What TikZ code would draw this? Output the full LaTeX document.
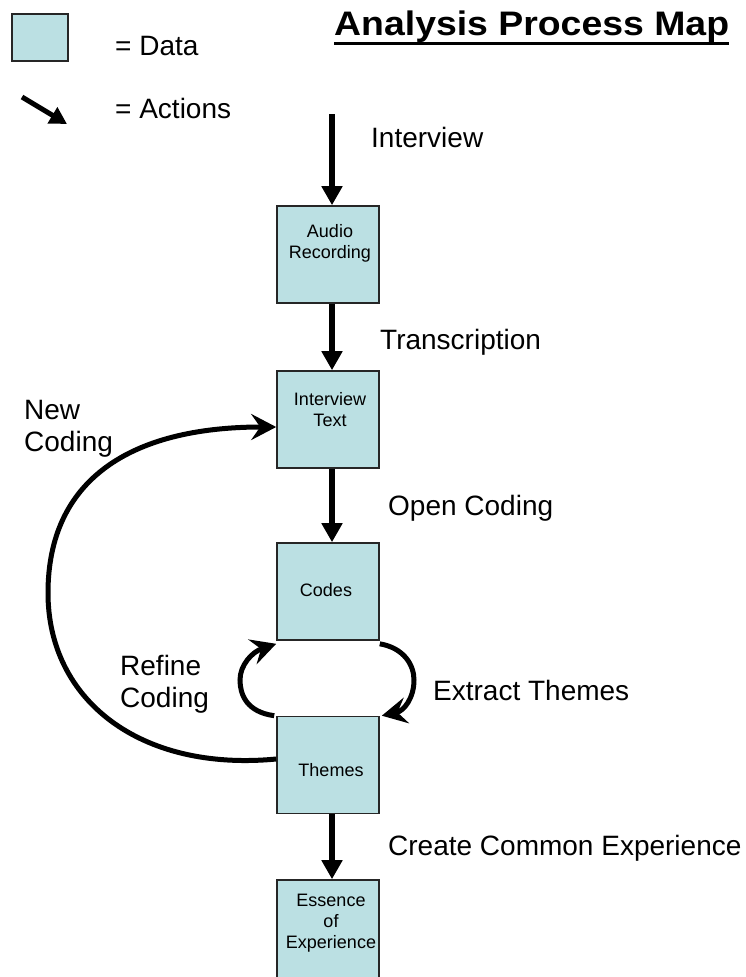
\documentclass[tikz,border=0pt]{standalone}
\usepackage{fontspec}
\setmainfont{Liberation Sans}
\usetikzlibrary{arrows.meta}
\definecolor{datafill}{HTML}{BBE0E3}
\begin{document}
\begin{tikzpicture}[x=1pt,y=-1pt,
  databox/.style={draw=black!85, line width=1.6pt, fill=datafill,
    minimum width=102pt, minimum height=97pt, inner sep=0pt},
  boxtext/.style={font=\fontsize{18}{21}\selectfont, align=center,
    inner sep=0pt, anchor=north},
  actlabel/.style={font=\fontsize{28}{32}\selectfont, inner sep=0pt,
    anchor=base west},
  multilabel/.style={font=\fontsize{28}{32}\selectfont, inner sep=0pt,
    anchor=north west, align=left},
  flow/.style={line width=6pt, -{Triangle[length=19pt,width=20pt]}},
  cyclearrow/.style={line width=5pt,
    -{Stealth[length=25pt,width=26pt,inset=9pt]}},
]
\useasboundingbox (0,0) rectangle (746,977);
\clip (0,0) rectangle (746,977);

% title
\node[font=\bfseries\fontsize{34}{40}\selectfont, anchor=base west,
  inner sep=0pt] (title) at (334,35) {\scalebox{1.1}[1]{Analysis Process Map}};
\draw[line width=3.5pt] ([yshift=-8.5pt]title.base west) -- ([yshift=-8.5pt]title.base east);

% legend
\node[databox, minimum width=56pt, minimum height=47pt] (legbox) at (40,37.5) {};
\node[actlabel] (legdata) at (115,55) {= Data};
\coordinate (legfrom) at (22,97);
\coordinate (legto) at (67,124);
\draw[line width=5pt, -{Triangle[length=17pt,width=18pt]}] (legfrom) -- (legto);
\node[actlabel] (legact) at (115,118) {= Actions};

% data boxes
\node[databox] (audio) at (328,254.5) {};
\node[databox] (itext) at (328,419.5) {};
\node[databox] (codes) at (328,591.5) {};
\node[databox] (themes) at (328,765) {};
\node[databox, minimum height=104pt] (essence) at (328,932) {};

\node[boxtext] (audiotxt) at (330,224) {Audio\\Recording};
\node[boxtext] (itexttxt) at (330,392) {Interview\\Text};
\node[boxtext] (codestxt) at (326,583) {Codes};
\node[boxtext] (themestxt) at (331,763) {Themes};
\node[boxtext] (essencetxt) at (331,894) {Essence\\of\\Experience};

% straight actions
\coordinate (start) at (332,114);
\draw[flow] (start) -- ([xshift=4pt]audio.north);
\draw[flow] ([xshift=4pt]audio.south) -- ([xshift=4pt]itext.north);
\draw[flow] ([xshift=4pt]itext.south) -- ([xshift=4pt]codes.north);
\draw[flow] ([xshift=4pt]themes.south) -- ([xshift=4pt]essence.north);

\node[actlabel] (linterview) at (371,147) {Interview};
\node[actlabel] (ltrans) at (380,349) {Transcription};
\node[actlabel] (lopen) at (388,515) {Open Coding};
\node[actlabel] (lextract) at (433,700) {Extract Themes};
\node[actlabel] (lcreate) at (388,855) {Create Common Experience};

% coding loops
\draw[cyclearrow] ([yshift=6pt]themes.west) .. controls (140,772) and (48,700) .. (48,593)
  .. controls (48,480) and (130,427) .. ([yshift=-7.5pt]itext.west);
\draw[cyclearrow] ([xshift=-2pt]themes.north west) .. controls (247,712) and (240,695) .. (240,680)
  .. controls (240,665) and (252,652) .. ([yshift=-3pt]codes.south west);
\draw[cyclearrow] ([yshift=-3pt]codes.south east) .. controls (404,648) and (414,665) .. (414,680)
  .. controls (414,698) and (404,711) .. ([xshift=2pt]themes.north east);

\node[multilabel] (lnew) at (24,400) {New\\Coding};
\node[multilabel] (lrefine) at (120,655) {Refine\\Coding};
\end{tikzpicture}
\end{document}
